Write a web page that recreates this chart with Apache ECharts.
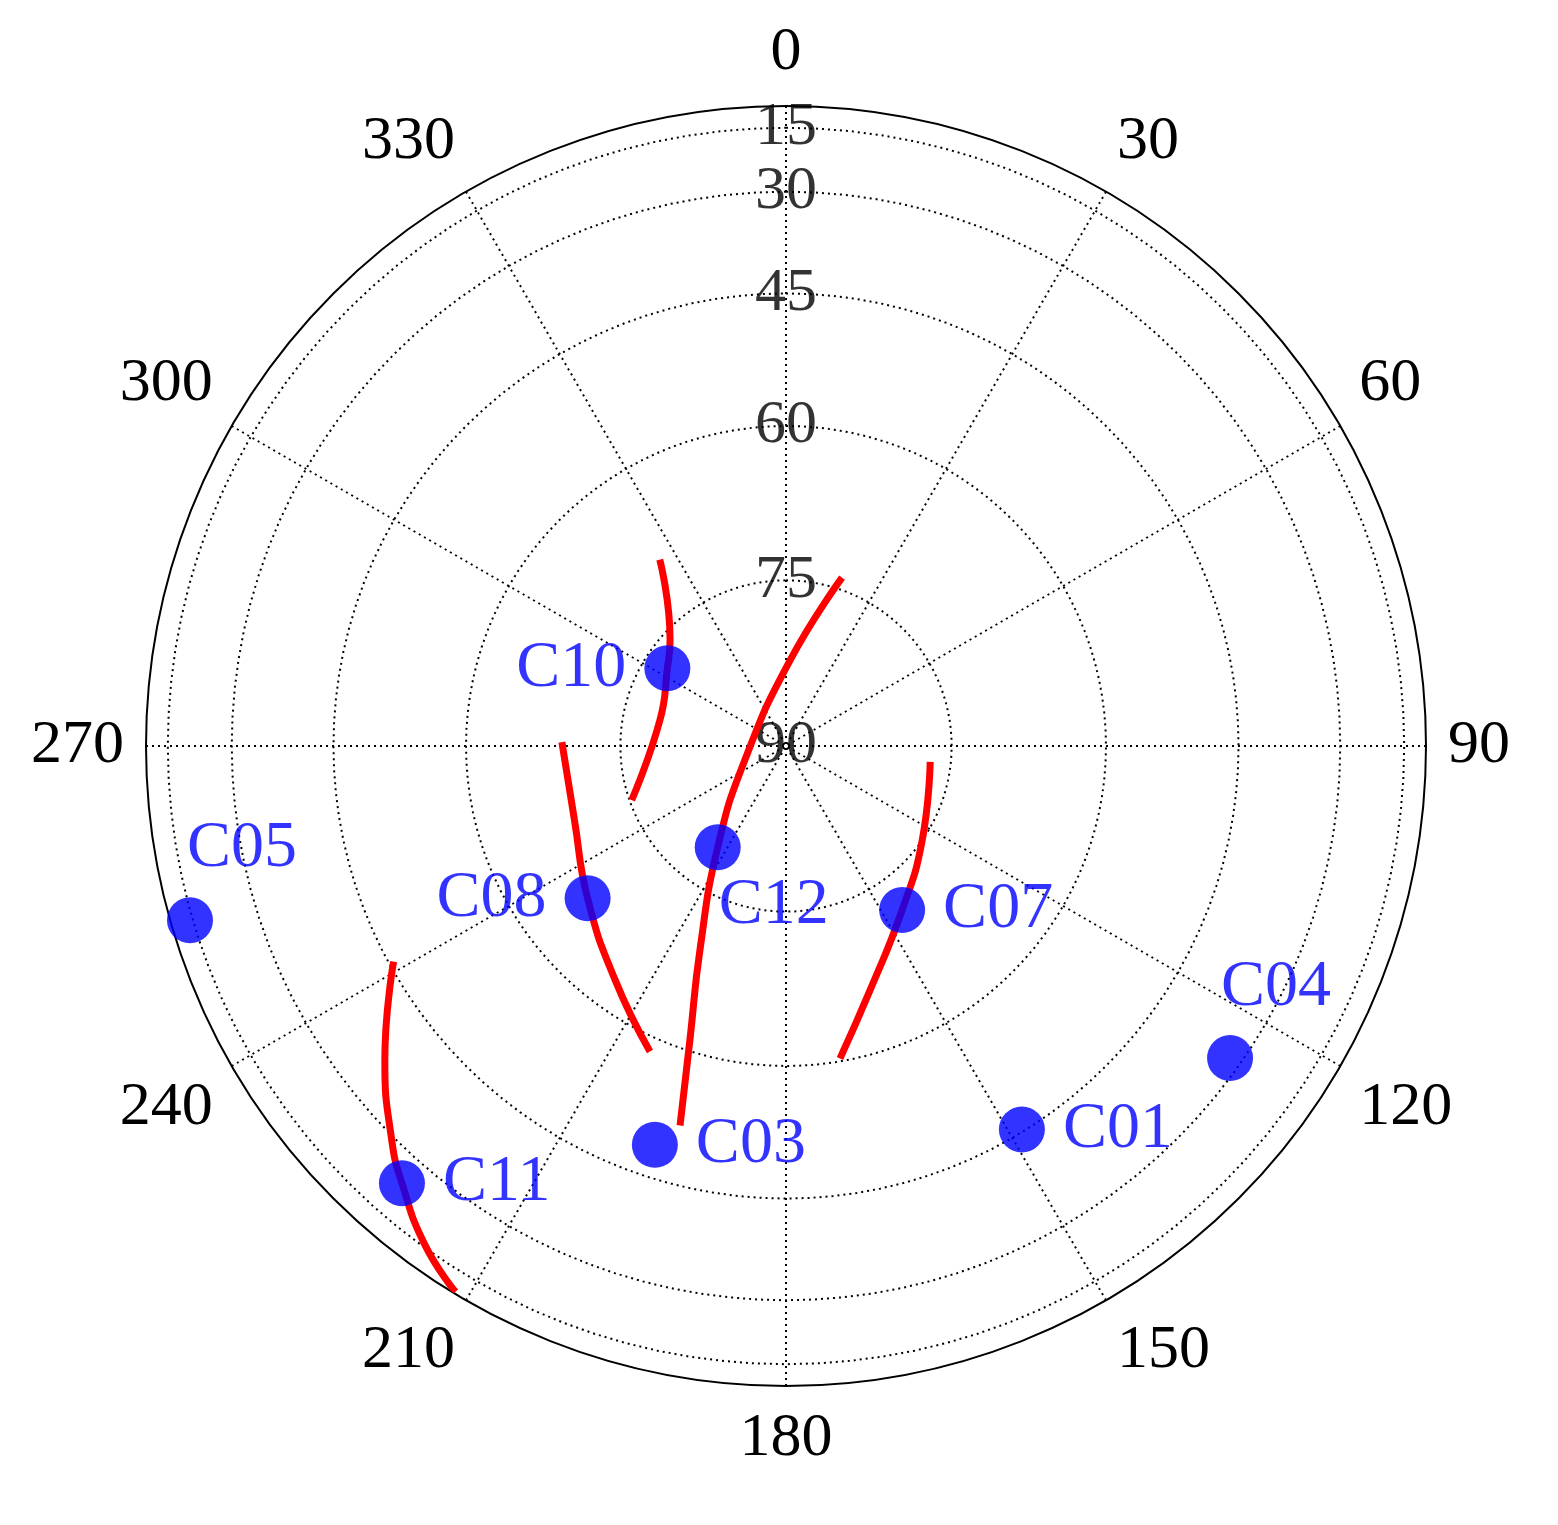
<!DOCTYPE html>
<html><head><meta charset="utf-8">
<script src="https://cdn.jsdelivr.net/npm/echarts@6/dist/echarts.min.js"></script>
<style>html,body{margin:0;padding:0;background:#fff}#c{width:1558px;height:1525px}</style>
</head><body><div id="c"></div>
<script>
// elevation rings (deg) and azimuth ticks
const ringElevations = [15, 30, 45, 60, 75];
const ringLabels = ['15', '30', '45', '60', '75', '90'];
// satellites: name, azimuth (deg), elevation (deg)
const satNames = ['C10', 'C05', 'C08', 'C12', 'C07', 'C04', 'C01', 'C03', 'C11'];
const satAz    = [303.2, 253.7, 232.5, 214.0, 144.7, 125.1, 148.4, 198.2, 221.3];
const satEl    = [77.2, 14.0, 67.0, 79.0, 71.7, 32.0, 45.3, 49.0, 24.6];
// tracks: [azimuth, elevation] pairs
const trackC10 = [[325.9, 69.4], [312.4, 75.8], [303.2, 77.2], [281.7, 78.4], [250.7, 75.2]];
const trackC12 = [[18.4, 73.9], [2.7, 82.3], [251.1, 86.1], [214.0, 79.0], [202.9, 69.8], [198.1, 61.1], [195.6, 52.0]];
const trackC08 = [[271.0, 69.5], [250.7, 69.5], [232.5, 67.0], [216.2, 63.1], [204.0, 58.5]];
const trackC07 = [[96.3, 76.9], [124.7, 75.0], [144.7, 71.7], [161.0, 66.2], [170.2, 60.3]];
const trackC11 = [[241.2, 45.6], [231.9, 37.2], [225.0, 29.4], [221.3, 24.6], [215.9, 15.8], [211.2, 4.4]];

const rad = el => Math.cos(el * Math.PI / 180);
const FONT = '"Liberation Serif", "DejaVu Serif", serif';
const labelPos = {
  C10: {position: 'left', distance: 18},
  C05: {position: 'top', distance: 12, offset: [52, -4]},
  C08: {position: 'left', distance: 18},
  C12: {position: 'bottom', distance: 2, offset: [56, 0]},
  C07: {position: 'right', distance: 18},
  C04: {position: 'top', distance: 14, offset: [46, 0]},
  C01: {position: 'right', distance: 18},
  C03: {position: 'right', distance: 18},
  C11: {position: 'right', distance: 18}
};

const series = [];
ringElevations.forEach(el => {
  const d = [];
  for (let a = 0; a <= 360; a += 3) d.push([rad(el), a]);
  series.push({type: 'line', coordinateSystem: 'polar', data: d, symbol: 'none', silent: true,
    lineStyle: {color: '#000', width: 2, type: [2, 4]}, z: 1});
});
series.push({type: 'scatter', coordinateSystem: 'polar', symbolSize: 0, silent: true, z: 3,
  data: ringLabels.map(l => [rad(+l), 0]),
  label: {show: true, position: 'inside', formatter: p => ringLabels[p.dataIndex],
    fontFamily: FONT, fontSize: 62, color: '#000'}});
[trackC10, trackC12, trackC08, trackC07, trackC11].forEach(t => {
  series.push({type: 'line', coordinateSystem: 'polar', smooth: true, symbol: 'none',
    data: t.map(p => [rad(p[1]), p[0]]), lineStyle: {color: '#ff0000', width: 7}, z: 4});
});
series.push({type: 'scatter', coordinateSystem: 'polar', symbolSize: 46, z: 5,
  itemStyle: {color: '#0000ff'},
  data: satNames.map((n, i) => ({value: [rad(satEl[i]), satAz[i]],
    label: Object.assign({show: true, formatter: n, fontFamily: FONT, fontSize: 66, color: '#0000ff'}, labelPos[n])}))});

const chart = echarts.init(document.getElementById('c'));
chart.setOption({
  animation: false,
  polar: {center: [786, 746], radius: 640},
  angleAxis: {type: 'value', min: 0, max: 360, interval: 30, startAngle: 90, clockwise: true,
    axisLine: {lineStyle: {color: '#000', width: 2}}, axisTick: {show: false},
    axisLabel: {fontFamily: FONT, fontSize: 62, color: '#000', margin: 22,
      formatter: v => v === 360 ? '' : String(v)},
    splitLine: {show: true, lineStyle: {color: '#000', width: 2, type: [2, 4]}}},
  radiusAxis: {type: 'value', min: 0, max: 1, show: false, splitLine: {show: false}, axisLabel: {show: false}},
  series
});
</script></body></html>
